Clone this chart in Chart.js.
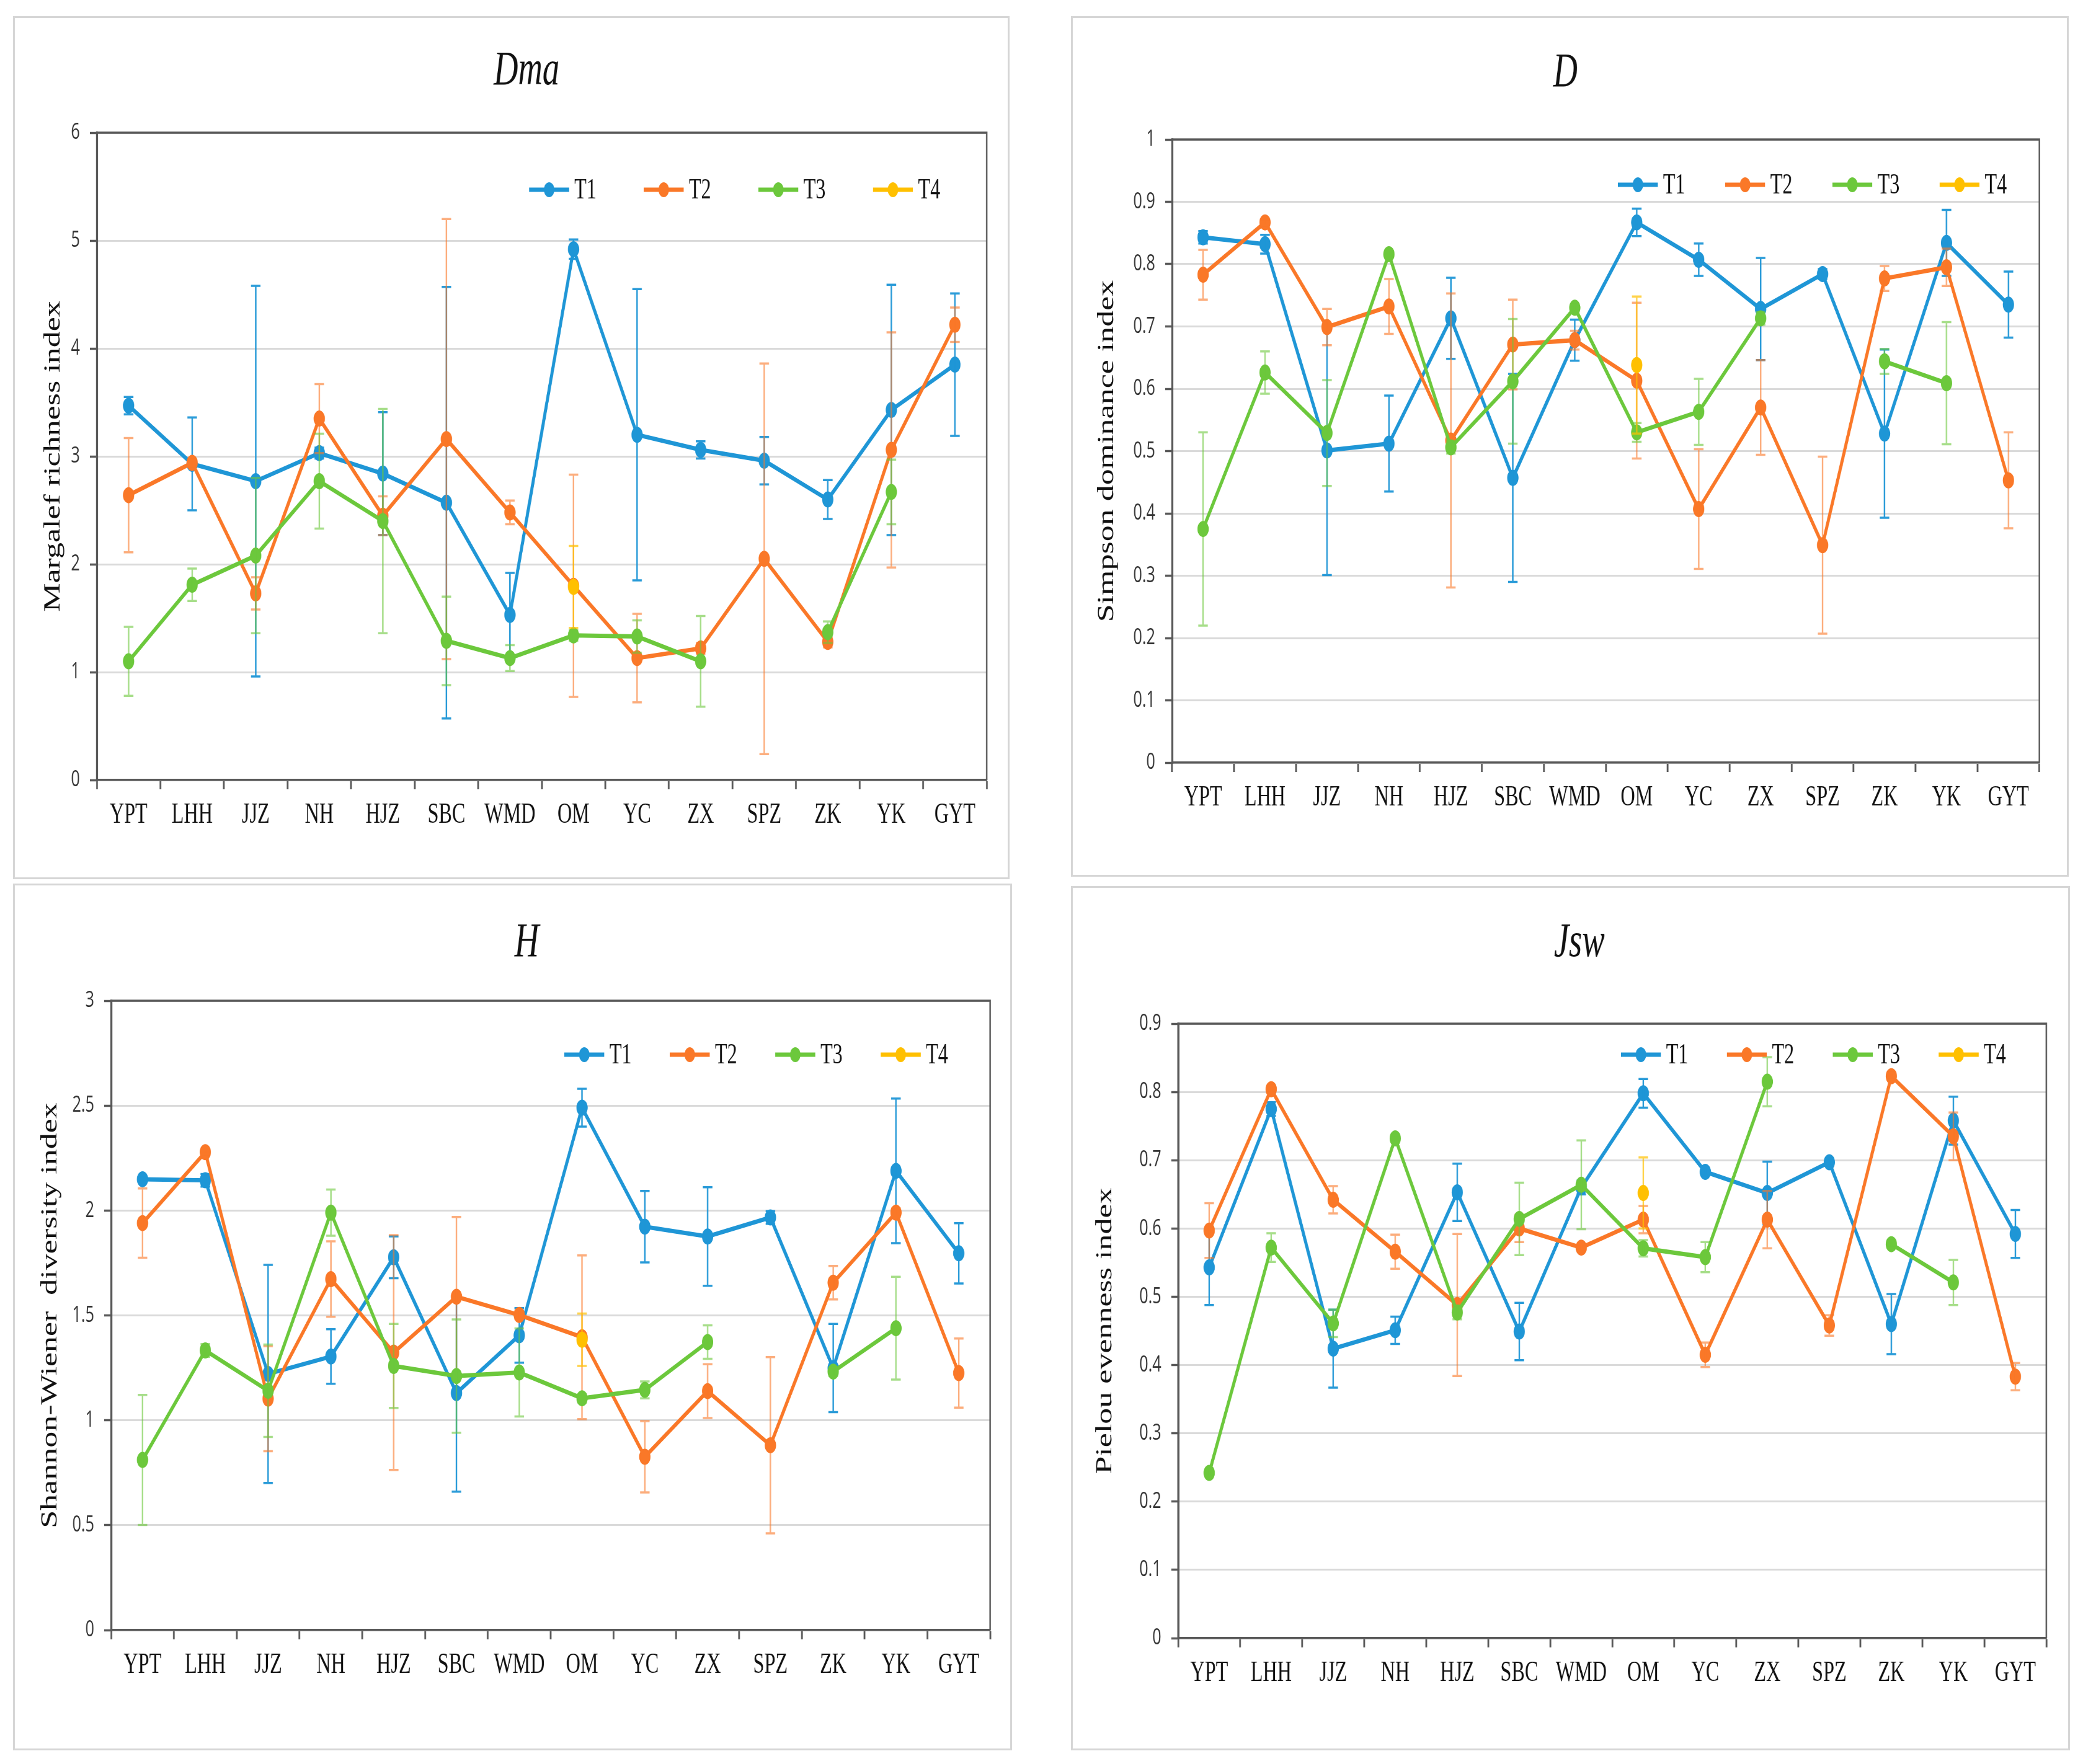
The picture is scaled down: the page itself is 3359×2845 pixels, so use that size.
<!DOCTYPE html>
<html>
<head>
<meta charset="utf-8">
<script src="https://cdn.jsdelivr.net/npm/chart.js@4.4.1/dist/chart.umd.min.js"></script>
<style>
  html, body { margin: 0; padding: 0; background: #ffffff; }
  body { width: 3359px; height: 2845px; position: relative; overflow: hidden; }
  .frame { position: absolute; box-sizing: border-box; border: 3px solid #D6D6D6; }
  .wrap { position: absolute; transform-origin: 0 0; }
  canvas { display: block; }
</style>
</head>
<body>
<script>
// ---------------- DATA ----------------
const categories = ['YPT','LHH','JJZ','NH','HJZ','SBC','WMD','OM','YC','ZX','SPZ','ZK','YK','GYT'];
const seriesNames = ['T1','T2','T3','T4'];

// Dma – Margalef richness index
const dmaT1    = [3.47, 2.93, 2.77, 3.03, 2.84, 2.57, 1.53, 4.92, 3.20, 3.06, 2.96, 2.60, 3.43, 3.85];
const dmaT1Err = [0.08, 0.43, 1.81, 0.05, 0.57, 2.00, 0.39, 0.09, 1.35, 0.08, 0.22, 0.18, 1.16, 0.66];
const dmaT2    = [2.64, 2.94, 1.73, 3.35, 2.45, 3.16, 2.48, 1.80, 1.13, 1.22, 2.05, 1.28, 3.06, 4.22];
const dmaT2Err = [0.53, 0.03, 0.15, 0.32, 0.18, 2.04, 0.11, 1.03, 0.41, 0.05, 1.81, 0.05, 1.09, 0.16];
const dmaT3    = [1.10, 1.81, 2.08, 2.77, 2.40, 1.29, 1.13, 1.34, 1.33, 1.10, null, 1.37, 2.67, null];
const dmaT3Err = [0.32, 0.15, 0.72, 0.44, 1.04, 0.41, 0.12, 0.05, 0.15, 0.42, null, 0.10, 0.30, null];
const dmaT4    = [null, null, null, null, null, null, null, 1.79, null, null, null, null, null, null];
const dmaT4Err = [null, null, null, null, null, null, null, 0.38, null, null, null, null, null, null];

// D – Simpson dominance index
const dT1    = [0.843, 0.832, 0.501, 0.512, 0.713, 0.457, 0.678, 0.867, 0.807, 0.728, 0.784, 0.528, 0.834, 0.735];
const dT1Err = [0.010, 0.015, 0.200, 0.077, 0.065, 0.167, 0.033, 0.022, 0.026, 0.082, 0.008, 0.135, 0.053, 0.053];
const dT2    = [0.783, 0.867, 0.699, 0.732, 0.517, 0.671, 0.678, 0.613, 0.407, 0.570, 0.349, 0.777, 0.795, 0.453];
const dT2Err = [0.040, 0.005, 0.029, 0.044, 0.236, 0.072, 0.015, 0.125, 0.096, 0.076, 0.142, 0.020, 0.030, 0.077];
const dT3    = [0.375, 0.626, 0.529, 0.816, 0.506, 0.612, 0.730, 0.530, 0.563, 0.713, null, 0.644, 0.609, null];
const dT3Err = [0.155, 0.034, 0.085, 0.005, 0.010, 0.100, 0.005, 0.015, 0.053, 0.010, null, 0.020, 0.098, null];
const dT4    = [null, null, null, null, null, null, null, 0.638, null, null, null, null, null, null];
const dT4Err = [null, null, null, null, null, null, null, 0.110, null, null, null, null, null, null];

// H – Shannon-Wiener diversity index
const hT1    = [2.149, 2.144, 1.221, 1.304, 1.777, 1.130, 1.405, 2.490, 1.923, 1.876, 1.967, 1.249, 2.189, 1.796];
const hT1Err = [0.010, 0.030, 0.520, 0.130, 0.100, 0.470, 0.130, 0.090, 0.170, 0.235, 0.030, 0.210, 0.345, 0.144];
const hT2    = [1.940, 2.278, 1.103, 1.673, 1.323, 1.589, 1.502, 1.396, 0.826, 1.139, 0.881, 1.656, 1.990, 1.225];
const hT2Err = [0.165, 0.010, 0.250, 0.180, 0.560, 0.380, 0.020, 0.390, 0.170, 0.128, 0.420, 0.080, 0.020, 0.165];
const hT3    = [0.811, 1.333, 1.141, 1.990, 1.259, 1.211, 1.228, 1.105, 1.145, 1.373, null, 1.232, 1.439, null];
const hT3Err = [0.310, 0.030, 0.220, 0.110, 0.200, 0.270, 0.210, 0.020, 0.040, 0.080, null, 0.020, 0.245, null];
const hT4    = [null, null, null, null, null, null, null, 1.384, null, null, null, null, null, null];
const hT4Err = [null, null, null, null, null, null, null, 0.125, null, null, null, null, null, null];

// Jsw – Pielou evenness index
const jT1    = [0.543, 0.775, 0.424, 0.451, 0.653, 0.449, 0.660, 0.798, 0.683, 0.652, 0.697, 0.460, 0.758, 0.592];
const jT1Err = [0.055, 0.010, 0.057, 0.020, 0.042, 0.042, 0.010, 0.021, 0.005, 0.046, 0.005, 0.044, 0.035, 0.035];
const jT2    = [0.597, 0.804, 0.642, 0.566, 0.488, 0.600, 0.572, 0.613, 0.415, 0.613, 0.458, 0.823, 0.735, 0.383];
const jT2Err = [0.040, 0.005, 0.020, 0.025, 0.104, 0.020, 0.005, 0.020, 0.018, 0.042, 0.015, 0.005, 0.035, 0.020];
const jT3    = [0.242, 0.572, 0.461, 0.732, 0.477, 0.614, 0.664, 0.571, 0.558, 0.815, null, 0.577, 0.521, null];
const jT3Err = [0.005, 0.021, 0.020, 0.005, 0.010, 0.053, 0.065, 0.012, 0.022, 0.036, null, 0.005, 0.033, null];
const jT4    = [null, null, null, null, null, null, null, 0.652, null, null, null, null, null, null];
const jT4Err = [null, null, null, null, null, null, null, 0.052, null, null, null, null, null, null];

// ---------------- STYLE ----------------
const SQ = 0.7; // horizontal squeeze of the original figure
const lineColors  = ['#1F96D6', '#FA7828', '#6CC83C', '#FFC000'];
const errorColors = ['rgba(31,150,214,0.95)', 'rgba(250,120,40,0.6)', 'rgba(108,200,60,0.6)', 'rgba(255,192,0,0.7)'];
const AXIS = '#595959';

const errorBarPlugin = {
  id: 'errorBars',
  afterDatasetDraw(chart, args) {
    const ds = chart.data.datasets[args.index];
    if (!ds.errors) return;
    const {ctx} = chart;
    const x = chart.scales.x, y = chart.scales.y;
    ctx.save();
    ctx.strokeStyle = ds.errorColor;
    ctx.lineWidth = 3.5;
    ds.data.forEach((v, j) => {
      const e = ds.errors[j];
      if (v == null || !e) return;
      const px = x.getPixelForValue(j);
      const t = y.getPixelForValue(v + e);
      const b = y.getPixelForValue(v - e);
      ctx.beginPath();
      ctx.moveTo(px, t); ctx.lineTo(px, b);
      ctx.moveTo(px - 11, t); ctx.lineTo(px + 11, t);
      ctx.moveTo(px - 11, b); ctx.lineTo(px + 11, b);
      ctx.stroke();
    });
    ctx.restore();
  }
};

const frameAndLegendPlugin = {
  id: 'lineLegend',
  afterDraw(chart, args, opts) {
    const {ctx, chartArea} = chart;
    ctx.save();
    // plot-area frame (top and right edges)
    ctx.strokeStyle = AXIS;
    ctx.lineWidth = 3.5;
    ctx.beginPath();
    ctx.moveTo(chartArea.left, chartArea.top);
    ctx.lineTo(chartArea.right, chartArea.top);
    ctx.lineTo(chartArea.right, chartArea.bottom);
    ctx.stroke();
    // legend: line with marker, like the spreadsheet original
    const y = chartArea.top + opts.dy;
    let x = chartArea.left + opts.dx;
    ctx.font = '46px "Liberation Serif"';
    ctx.textBaseline = 'middle';
    ctx.textAlign = 'left';
    chart.data.datasets.slice().sort((a, b) => a.seriesIndex - b.seriesIndex).forEach(ds => {
      ctx.strokeStyle = ds.borderColor;
      ctx.lineWidth = 7;
      ctx.beginPath(); ctx.moveTo(x, y); ctx.lineTo(x + 92, y); ctx.stroke();
      ctx.fillStyle = ds.backgroundColor;
      ctx.beginPath(); ctx.arc(x + 46, y, 12, 0, Math.PI * 2); ctx.fill();
      ctx.fillStyle = '#111';
      ctx.fillText(ds.label, x + 104, y + 2);
      x += opts.spacing;
    });
    ctx.restore();
  }
};

function makeDatasets(vals, errs) {
  return vals.map((v, i) => ({
    label: seriesNames[i],
    seriesIndex: i,
    data: v,
    errors: errs[i],
    errorColor: errorColors[i],
    borderColor: lineColors[i],
    backgroundColor: lineColors[i],
    pointBackgroundColor: lineColors[i],
    pointBorderColor: lineColors[i],
    borderWidth: 7,
    pointRadius: 12,
    pointBorderWidth: 2,
    pointHoverRadius: 12,
    tension: 0,
    spanGaps: false,
    order: 4 - i
  }));
}

const panels = [
  { title: 'Dma', yTitle: 'Margalef richness index', max: 6, step: 1,
    vals: [dmaT1, dmaT2, dmaT3, dmaT4], errs: [dmaT1Err, dmaT2Err, dmaT3Err, dmaT4Err],
    box: {L: 21, T: 26, W: 1607, H: 1392},
    area: {L: 193, R: 2243, T: 188, B: 1232}, titleCx: 1184, titleCy: 89, yTitleX: 93, labelRoom: 70,
    legend: {dx: 996, dy: 92, spacing: 264} },
  { title: 'D', yTitle: 'Simpson dominance index', max: 1, step: 0.1,
    vals: [dT1, dT2, dT3, dT4], errs: [dT1Err, dT2Err, dT3Err, dT4Err],
    box: {L: 1727, T: 26, W: 1609, H: 1388},
    area: {L: 233, R: 2231, T: 199, B: 1204}, titleCx: 1139, titleCy: 92, yTitleX: 83, labelRoom: 115,
    legend: {dx: 1027, dy: 73, spacing: 247} },
  { title: 'H', yTitle: 'Shannon-Wiener  diversity index', max: 3, step: 0.5,
    vals: [hT1, hT2, hT3, hT4], errs: [hT1Err, hT2Err, hT3Err, hT4Err],
    box: {L: 21, T: 1425, W: 1611, H: 1398},
    area: {L: 226, R: 2251, T: 189, B: 1204}, titleCx: 1200, titleCy: 96, yTitleX: 86, labelRoom: 110,
    legend: {dx: 1044, dy: 87, spacing: 243} },
  { title: 'Jsw', yTitle: 'Pielou evenness index', max: 0.9, step: 0.1,
    vals: [jT1, jT2, jT3, jT4], errs: [jT1Err, jT2Err, jT3Err, jT4Err],
    box: {L: 1727, T: 1429, W: 1611, H: 1394},
    area: {L: 247, R: 2247, T: 222, B: 1213}, titleCx: 1171, titleCy: 92, yTitleX: 79, labelRoom: 115,
    legend: {dx: 1020, dy: 50, spacing: 244} }
];

const TITLE_SIZE = 78, YTITLE_SIZE = 52, XAXIS_H = 140;

panels.forEach((p, k) => {
  const frame = document.createElement('div');
  frame.className = 'frame';
  Object.assign(frame.style, {left: p.box.L + 'px', top: p.box.T + 'px', width: p.box.W + 'px', height: p.box.H + 'px'});
  document.body.appendChild(frame);

  const cw = Math.round(p.box.W / SQ), ch = p.box.H;
  const wrap = document.createElement('div');
  wrap.className = 'wrap';
  Object.assign(wrap.style, {left: p.box.L + 'px', top: p.box.T + 'px', width: cw + 'px', height: ch + 'px', transform: 'scaleX(' + SQ + ')'});
  const canvas = document.createElement('canvas');
  canvas.width = cw; canvas.height = ch;
  canvas.style.width = cw + 'px'; canvas.style.height = ch + 'px';
  wrap.appendChild(canvas);
  document.body.appendChild(wrap);

  const a = p.area;
  const pr = cw - a.R;
  const pl = Math.max(4, Math.min(2 * p.titleCx - cw + pr, a.L - p.labelRoom));
  const yw = a.L - pl;
  const pb = ch - a.B - XAXIS_H;
  const tLH = TITLE_SIZE * 1.2;
  const yTitlePad = p.yTitleX - pl - YTITLE_SIZE * 1.2 / 2;

  new Chart(canvas, {
    type: 'line',
    data: { labels: categories, datasets: makeDatasets(p.vals, p.errs) },
    plugins: [errorBarPlugin, frameAndLegendPlugin],
    options: {
      responsive: false,
      animation: false,
      devicePixelRatio: 1,
      layout: { padding: { left: pl, right: pr, top: 0, bottom: pb } },
      plugins: {
        legend: { display: false },
        tooltip: { enabled: false },
        title: {
          display: true, text: p.title, fullSize: true, color: '#111',
          font: { family: 'Liberation Serif', style: 'italic', size: TITLE_SIZE, weight: 'normal' },
          padding: { top: p.titleCy - tLH / 2, bottom: a.T - p.titleCy - tLH / 2 }
        },
        lineLegend: p.legend
      },
      scales: {
        x: {
          type: 'category',
          offset: true,
          grid: { offset: true, drawOnChartArea: false, drawTicks: true, tickLength: 15, tickColor: AXIS, tickWidth: 4 },
          border: { display: true, color: AXIS, width: 3.5 },
          ticks: { font: { family: 'Liberation Serif', size: 46 }, color: '#111', padding: 14, maxRotation: 0, autoSkip: false },
          afterFit: (s) => { s.height = XAXIS_H; }
        },
        y: {
          min: 0, max: p.max,
          ticks: { stepSize: p.step, font: { family: 'Open Sans', size: 36 }, color: '#333', padding: 23,
                   callback: (v) => String(Number(v.toFixed(3))) },
          grid: { color: '#DADADA', lineWidth: 3, drawTicks: true, tickLength: 16, tickColor: AXIS, tickWidth: 3.5 },
          border: { display: true, color: AXIS, width: 5 },
          title: { display: true, text: p.yTitle, color: '#111',
                   font: { family: 'Liberation Serif', size: YTITLE_SIZE },
                   padding: { top: yTitlePad, bottom: 0 } },
          afterFit: (s) => { s.width = yw; }
        }
      }
    }
  });
});
</script>
</body>
</html>
